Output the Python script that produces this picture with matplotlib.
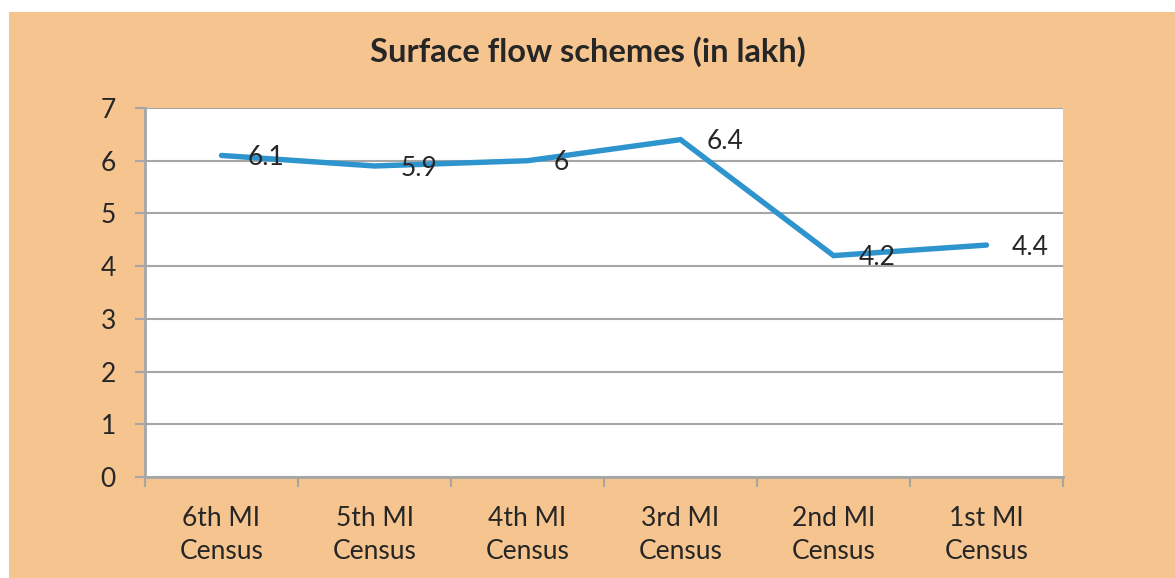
import matplotlib
matplotlib.use("Agg")
import matplotlib.pyplot as plt
from matplotlib.patches import Rectangle

plt.rcParams['font.family'] = ['Lato', 'DejaVu Sans']

censuses = ["6th MI\nCensus", "5th MI\nCensus", "4th MI\nCensus",
            "3rd MI\nCensus", "2nd MI\nCensus", "1st MI\nCensus"]
schemes = [6.1, 5.9, 6.0, 6.4, 4.2, 4.4]
value_labels = ["6.1", "5.9", "6", "6.4", "4.2", "4.4"]

text_color = "#262626"
grid_color = "#A6A6A6"
panel_color = "#F5C48F"
line_color = "#2E94CE"

fig = plt.figure(figsize=(11.75, 5.78), dpi=100)
fig.patch.set_facecolor("white")
fig.patches.append(Rectangle((9 / 1175, 0), 1, 1 - 12 / 578, transform=fig.transFigure,
                             facecolor=panel_color, edgecolor="none", zorder=-10))

ax = fig.add_axes([145 / 1175, 1 - 477 / 578, (1063 - 145) / 1175, (477 - 108) / 578])
ax.set_facecolor("white")

x = list(range(len(schemes)))
ax.plot(x, schemes, color=line_color, linewidth=3.9, solid_capstyle="round",
        solid_joinstyle="miter", zorder=3)

for xi, yi, lab in zip(x, schemes, value_labels):
    ax.annotate(lab, (xi, yi), xytext=(18.5, -1.5), textcoords="offset points",
                ha="left", va="center", fontsize=19, color=text_color, zorder=4)

ax.set_xlim(-0.5, len(schemes) - 0.5)
ax.set_ylim(0, 7)
ax.set_yticks(range(0, 8))
ax.yaxis.grid(True, color=grid_color, linewidth=1.5)
ax.set_axisbelow(True)

ax.set_xticks(x)
ax.set_xticklabels(censuses, fontsize=19, color=text_color, linespacing=1.4)
ax.set_xticks([i - 0.5 for i in range(len(schemes) + 1)], minor=True)
ax.tick_params(axis="x", which="major", length=0, pad=21)
ax.tick_params(axis="x", which="minor", length=7, width=1.5, color=grid_color)
ax.tick_params(axis="y", length=7, width=1.5, color=grid_color, pad=14,
               labelsize=19, labelcolor=text_color)

for side in ["top", "right"]:
    ax.spines[side].set_visible(False)
for side in ["left", "bottom"]:
    ax.spines[side].set_color(grid_color)
    ax.spines[side].set_linewidth(2)

fig.text(0.5, 1 - 52 / 578, "Surface flow schemes (in lakh)", ha="center", va="center",
         fontsize=23.5, fontweight="bold", color=text_color)

fig.savefig("out.png", dpi=100, facecolor=fig.get_facecolor())
